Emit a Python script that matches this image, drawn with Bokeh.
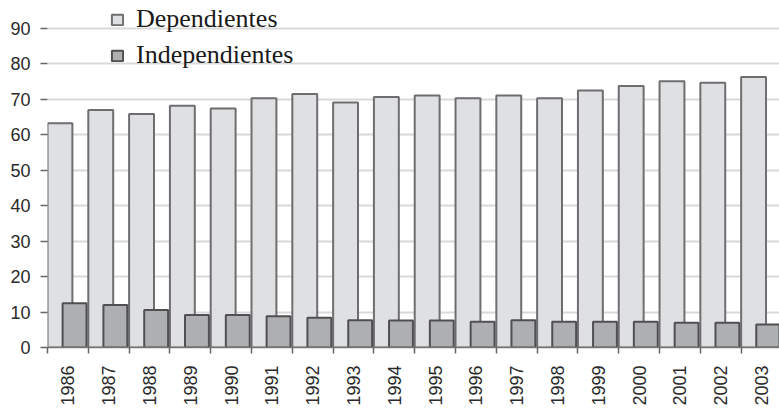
import math
from bokeh.plotting import figure
from bokeh.models import ColumnDataSource, FixedTicker, Legend, LegendItem, Range1d
from bokeh.embed import file_html
from bokeh.resources import INLINE

# Employed population by category, 1986-2003 (percent)
years = ["1986", "1987", "1988", "1989", "1990", "1991", "1992", "1993", "1994",
         "1995", "1996", "1997", "1998", "1999", "2000", "2001", "2002", "2003"]
dependientes = [63.3, 67.0, 65.9, 68.2, 67.4, 70.3, 71.5, 69.1, 70.7,
                71.1, 70.3, 71.1, 70.3, 72.5, 73.8, 75.1, 74.7, 76.3]
independientes = [12.5, 12.0, 10.6, 9.2, 9.2, 8.8, 8.4, 7.7, 7.6,
                  7.6, 7.3, 7.7, 7.3, 7.3, 7.3, 7.0, 7.0, 6.5]
y_ticks = [0, 10, 20, 30, 40, 50, 60, 70, 80, 90]

SANS = "Arial, 'Liberation Sans', sans-serif"
SERIF = "'Times New Roman', 'Liberation Serif', serif"

n = len(years)
slot = list(range(n))
source = ColumnDataSource(dict(
    slot=slot,
    dep_x=[i + 0.305 for i in slot],
    ind_x=[i + 0.663 for i in slot],
    dep=dependientes,
    ind=independientes,
))

p = figure(width=779, height=408, output_backend="svg", toolbar_location=None,
           x_range=Range1d(0, 17.94), y_range=Range1d(0, 97.9),
           min_border_left=47, min_border_right=0, min_border_top=0,
           min_border_bottom=61)
p.outline_line_color = None
p.background_fill_color = "white"
p.border_fill_color = "white"

dep_r = p.vbar(x="dep_x", width=0.61, top="dep", bottom=0, source=source,
               fill_color="#dfe0e2", line_color="#6e6e70", line_width=2)
ind_r = p.vbar(x="ind_x", width=0.585, top="ind", bottom=0, source=source,
               fill_color="#aeafb1", line_color="#505052", line_width=2)

# x axis: year labels at slot centres, short ticks at slot boundaries
centers = [i + 0.5 for i in slot]
p.xaxis.ticker = FixedTicker(ticks=centers, minor_ticks=list(range(n + 1)))
p.xaxis.major_label_overrides = {c: y for c, y in zip(centers, years)}
p.xaxis.major_label_orientation = math.pi / 2
p.xaxis.major_tick_out = 0
p.xaxis.major_tick_in = 0
p.xaxis.minor_tick_out = 6
p.xaxis.minor_tick_in = 0
p.xaxis.minor_tick_line_color = "#666666"
p.xaxis.minor_tick_line_width = 1.5
p.xaxis.axis_line_color = "#777777"
p.xaxis.axis_line_width = 1.5
p.xaxis.major_label_standoff = 12
p.xaxis.major_label_text_font = SANS
p.xaxis.major_label_text_font_size = "18px"
p.xaxis.major_label_text_color = "#2a2a2a"

# y axis
p.yaxis.ticker = FixedTicker(ticks=y_ticks)
p.yaxis.axis_line_color = None
p.yaxis.major_tick_out = 7
p.yaxis.major_tick_in = 0
p.yaxis.major_tick_line_color = "#666666"
p.yaxis.major_tick_line_width = 1.5
p.yaxis.minor_tick_line_color = None
p.yaxis.major_label_standoff = 10
p.yaxis.major_label_text_font = SANS
p.yaxis.major_label_text_font_size = "18px"
p.yaxis.major_label_text_color = "#2a2a2a"

p.xgrid.grid_line_color = None
p.ygrid.ticker = FixedTicker(ticks=y_ticks[1:])
p.ygrid.grid_line_color = "#d9d9d9"
p.ygrid.grid_line_width = 2
p.ygrid.level = "underlay"

legend = Legend(
    items=[LegendItem(label="Dependientes", renderers=[dep_r]),
           LegendItem(label="Independientes", renderers=[ind_r])],
    location=(63, 277),
    orientation="vertical",
    background_fill_alpha=0,
    border_line_color=None,
    padding=5,
    spacing=6,
    glyph_width=14,
    glyph_height=13,
    label_height=28,
    label_standoff=12,
    label_text_font=SERIF,
    label_text_font_size="26px",
    label_text_color="#1a1a1a",
)
p.add_layout(legend)

open("out.html", "w").write(file_html(p, INLINE))
